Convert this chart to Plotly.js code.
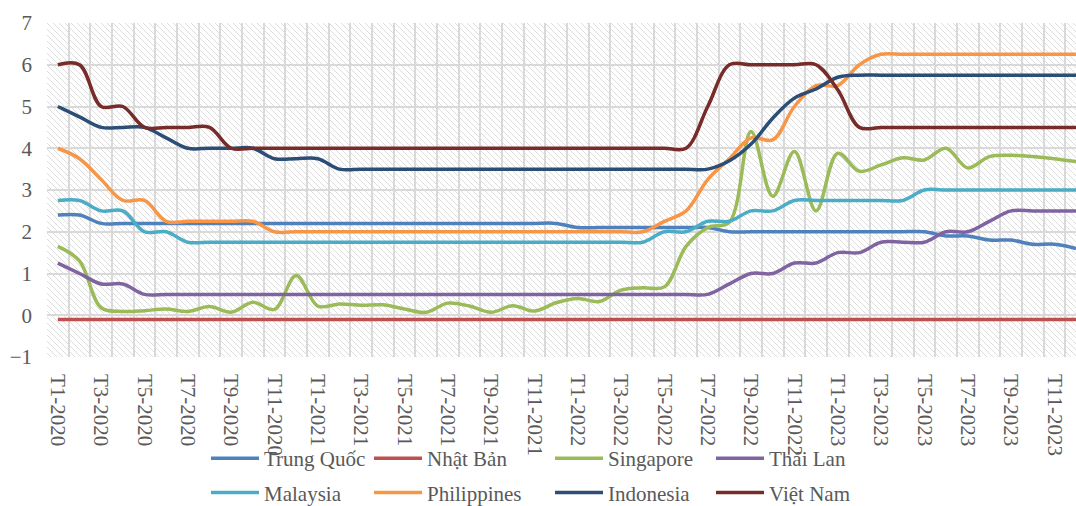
<!DOCTYPE html>
<html>
<head>
<meta charset="utf-8">
<script src="https://cdn.plot.ly/plotly-3.0.1.min.js"></script>
<style>
html,body{margin:0;padding:0;background:#fff;overflow:hidden;}
#wrap{position:relative;width:1076px;height:506px;overflow:hidden;}
#hatch{position:absolute;left:47px;top:23px;width:1029px;height:334px;background-repeat:repeat;}
#chart{position:absolute;left:0;top:0;width:1076px;height:540px;}
</style>
</head>
<body>
<div id="wrap"><div id="hatch"></div><div id="chart"></div></div>
<script>
// ---- data ----
const months = ['T1-2020','T2-2020','T3-2020','T4-2020','T5-2020','T6-2020','T7-2020','T8-2020','T9-2020','T10-2020','T11-2020','T12-2020',
  'T1-2021','T2-2021','T3-2021','T4-2021','T5-2021','T6-2021','T7-2021','T8-2021','T9-2021','T10-2021','T11-2021','T12-2021',
  'T1-2022','T2-2022','T3-2022','T4-2022','T5-2022','T6-2022','T7-2022','T8-2022','T9-2022','T10-2022','T11-2022','T12-2022',
  'T1-2023','T2-2023','T3-2023','T4-2023','T5-2023','T6-2023','T7-2023','T8-2023','T9-2023','T10-2023','T11-2023','T12-2023'];

const trungQuoc = [2.4,2.4,2.2,2.2,2.2,2.2,2.2,2.2,2.2,2.2,2.2,2.2,
  2.2,2.2,2.2,2.2,2.2,2.2,2.2,2.2,2.2,2.2,2.2,2.2,
  2.1,2.1,2.1,2.1,2.1,2.1,2.1,2.0,2.0,2.0,2.0,2.0,
  2.0,2.0,2.0,2.0,2.0,1.9,1.9,1.8,1.8,1.7,1.7,1.6];

const nhatBan = [-0.1,-0.1,-0.1,-0.1,-0.1,-0.1,-0.1,-0.1,-0.1,-0.1,-0.1,-0.1,
  -0.1,-0.1,-0.1,-0.1,-0.1,-0.1,-0.1,-0.1,-0.1,-0.1,-0.1,-0.1,
  -0.1,-0.1,-0.1,-0.1,-0.1,-0.1,-0.1,-0.1,-0.1,-0.1,-0.1,-0.1,
  -0.1,-0.1,-0.1,-0.1,-0.1,-0.1,-0.1,-0.1,-0.1,-0.1,-0.1,-0.1];

const singapore = [1.65,1.3,0.18,0.09,0.11,0.15,0.09,0.21,0.07,0.31,0.14,0.95,
  0.22,0.27,0.24,0.25,0.15,0.07,0.29,0.22,0.07,0.23,0.1,0.3,
  0.4,0.33,0.6,0.66,0.68,1.65,2.1,2.23,4.4,2.85,3.92,2.5,
  3.88,3.45,3.6,3.77,3.72,4.0,3.53,3.8,3.83,3.8,3.75,3.68];

const thaiLan = [1.25,1.0,0.75,0.75,0.5,0.5,0.5,0.5,0.5,0.5,0.5,0.5,
  0.5,0.5,0.5,0.5,0.5,0.5,0.5,0.5,0.5,0.5,0.5,0.5,
  0.5,0.5,0.5,0.5,0.5,0.5,0.5,0.75,1.0,1.0,1.25,1.25,
  1.5,1.5,1.75,1.75,1.75,2.0,2.0,2.25,2.5,2.5,2.5,2.5];

const malaysia = [2.75,2.75,2.5,2.5,2.0,2.0,1.75,1.75,1.75,1.75,1.75,1.75,
  1.75,1.75,1.75,1.75,1.75,1.75,1.75,1.75,1.75,1.75,1.75,1.75,
  1.75,1.75,1.75,1.75,2.0,2.0,2.25,2.25,2.5,2.5,2.75,2.75,
  2.75,2.75,2.75,2.75,3.0,3.0,3.0,3.0,3.0,3.0,3.0,3.0];

const philippines = [4.0,3.75,3.25,2.75,2.75,2.25,2.25,2.25,2.25,2.25,2.0,2.0,
  2.0,2.0,2.0,2.0,2.0,2.0,2.0,2.0,2.0,2.0,2.0,2.0,
  2.0,2.0,2.0,2.0,2.25,2.5,3.25,3.75,4.25,4.2,5.0,5.5,
  5.5,6.0,6.25,6.25,6.25,6.25,6.25,6.25,6.25,6.25,6.25,6.25];

const indonesia = [5.0,4.75,4.5,4.5,4.5,4.25,4.0,4.0,4.0,4.0,3.75,3.75,
  3.75,3.5,3.5,3.5,3.5,3.5,3.5,3.5,3.5,3.5,3.5,3.5,
  3.5,3.5,3.5,3.5,3.5,3.5,3.5,3.7,4.1,4.72,5.2,5.42,
  5.7,5.75,5.75,5.75,5.75,5.75,5.75,5.75,5.75,5.75,5.75,5.75];

const vietNam = [6.0,6.0,5.0,5.0,4.5,4.5,4.5,4.5,4.0,4.0,4.0,4.0,
  4.0,4.0,4.0,4.0,4.0,4.0,4.0,4.0,4.0,4.0,4.0,4.0,
  4.0,4.0,4.0,4.0,4.0,4.0,5.0,6.0,6.0,6.0,6.0,6.0,
  5.4,4.5,4.5,4.5,4.5,4.5,4.5,4.5,4.5,4.5,4.5,4.5];

const seriesNames = ['Trung Quốc','Nhật Bản','Singapore','Thái Lan','Malaysia','Philippines','Indonesia','Việt Nam'];
const seriesValues = [trungQuoc, nhatBan, singapore, thaiLan, malaysia, philippines, indonesia, vietNam];
const yTickValues = [-1,0,1,2,3,4,5,6,7];

// ---- styles ----
const seriesColors = ['#4F81BD','#C0504D','#9BBB59','#8064A2','#4BACC6','#F79646','#2C4D75','#772C2A'];
const legendIds = ['legend','legend2','legend3','legend4','legend','legend2','legend3','legend4'];
const FONT = 'Liberation Serif';
const TXT = '#595959';
const GRID = '#d9d9d9';

// hatch background (downward diagonal)
(function () {
  const n = 6;
  const c = document.createElement('canvas');
  c.width = n; c.height = n;
  const g = c.getContext('2d');
  g.fillStyle = '#ffffff'; g.fillRect(0, 0, n, n);
  g.fillStyle = '#dddddd';
  for (let i = 0; i < n; i++) g.fillRect(i, i, 1, 1);
  document.getElementById('hatch').style.backgroundImage = 'url(' + c.toDataURL() + ')';
})();

const xIdx = months.map((m, i) => i);
const tickIdx = xIdx.filter(i => i % 2 === 0);
const boundaries = months.map((m, i) => i - 0.5);

const traces = seriesNames.map((name, k) => ({
  type: 'scatter',
  mode: 'lines',
  name: name,
  x: xIdx,
  y: seriesValues[k],
  line: {color: seriesColors[k], width: 3.5, shape: 'spline', smoothing: 1},
  legend: legendIds[k],
  legendgroup: 'g' + k,
  hoverinfo: 'skip'
}));

const PLOT_L = 47, PLOT_W = 1029, PLOT_B = 357, PLOT_H = 334;
function legendAt(xpx) {
  return {
    orientation: 'v', xanchor: 'left', yanchor: 'top',
    x: (xpx - PLOT_L) / PLOT_W, y: (PLOT_B - 438) / PLOT_H,
    itemwidth: 48, tracegroupgap: 4,
    bgcolor: 'rgba(0,0,0,0)', borderwidth: 0,
    font: {family: FONT, size: 21, color: TXT},
    traceorder: 'grouped', itemclick: false, itemdoubleclick: false
  };
}

const layout = {
  width: 1076, height: 540,
  margin: {l: PLOT_L, r: 0, t: 23, b: 540 - 23 - PLOT_H, pad: 0},
  paper_bgcolor: 'rgba(0,0,0,0)', plot_bgcolor: 'rgba(0,0,0,0)',
  font: {family: FONT, size: 21, color: TXT},
  showlegend: true,
  xaxis: {
    range: [-0.5, 47], tickmode: 'array', tickvals: tickIdx,
    ticktext: tickIdx.map(i => months[i]), tickangle: 90,
    showgrid: false, zeroline: false, showline: false, ticks: '',
    ticklabelstandoff: 16,
    tickfont: {family: FONT, size: 21, color: TXT},
    minor: {tickmode: 'array', tickvals: boundaries, showgrid: true, gridcolor: GRID, gridwidth: 2, ticks: ''},
    fixedrange: true
  },
  yaxis: {
    range: [-1, 7], tickmode: 'array', tickvals: yTickValues,
    showgrid: true, gridcolor: GRID, gridwidth: 2,
    zeroline: false, showline: false, ticks: '',
    ticklabelstandoff: 14,
    tickfont: {family: FONT, size: 21, color: TXT},
    fixedrange: true
  },
  legend: legendAt(206),
  legend2: legendAt(369),
  legend3: legendAt(550),
  legend4: legendAt(711)
};

Plotly.newPlot('chart', traces, layout, {displayModeBar: false, staticPlot: true});
</script>
</body>
</html>
